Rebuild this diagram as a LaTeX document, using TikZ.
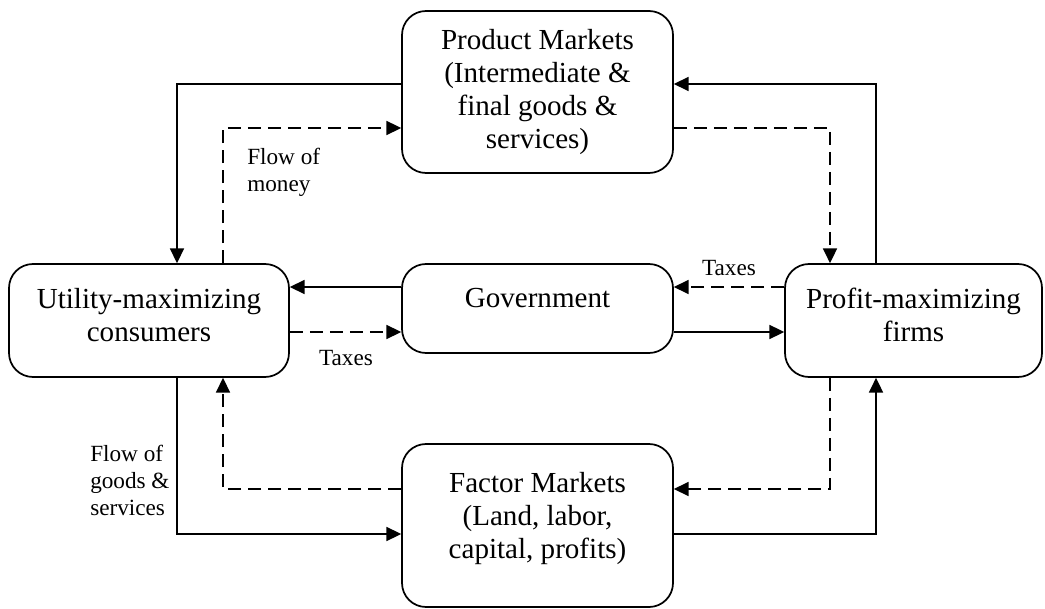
\documentclass[tikz,border=0pt]{standalone}
\usepackage{fontspec}
\setmainfont{Liberation Serif}
\usetikzlibrary{arrows.meta}

\begin{document}
\begin{tikzpicture}[x=0.75pt, y=-0.75pt,
		market/.style={draw, line width=1.3pt, rounded corners=18pt, align=center, inner sep=0pt, font=\fontsize{21.8}{24.75}\selectfont},
		goods/.style={line width=1.3pt, -{Triangle[length=11pt,width=10.5pt]}},
		money/.style={goods, dash pattern=on 10pt off 5pt},
		note/.style={align=left, inner sep=0pt, font=\fontsize{17.4}{20.25}\selectfont}]
		\useasboundingbox (0,0) rectangle (1045,609);
		
		% Boxes of the circular flow
		\node[market, minimum width=203.25pt, minimum height=121.5pt] (prod) at (537.5,92) {Product Markets\\(Intermediate \&\\final goods \&\\services)};
		\node[market, minimum width=210pt, minimum height=84.75pt, text depth=8pt] (cons) at (149,320.5) {Utility-maximizing\\consumers};
		\node[market, minimum width=203.25pt, minimum height=66.75pt, text depth=16pt] (gov) at (537.5,308.5) {Government};
		\node[market, minimum width=192.75pt, minimum height=84.75pt, text depth=8pt] (firms) at (913.5,320.5) {Profit-maximizing\\firms};
		\node[market, minimum width=203.25pt, minimum height=122.25pt, text depth=15pt] (factor) at (537.5,525.5) {Factor Markets\\(Land, labor,\\capital, profits)};
		
		% Bend points of the connectors
		\coordinate (outer) at (177,84);   % outer solid loop, top
		\coordinate (inner) at (223,128);  % inner dashed loop, top
		\coordinate (fouter) at (876,84);
		\coordinate (finner) at (830,128);
		\coordinate (gtop) at (0,287);
		\coordinate (gbot) at (0,332);
		\coordinate (bouter) at (177,534); % outer solid loop, bottom
		\coordinate (binner) at (223,489); % inner dashed loop, bottom
		\coordinate (fbouter) at (876,534);
		\coordinate (fbinner) at (830,489);
		
		% Upper half
		\draw[goods] (prod.west |- outer) -| (cons.north -| outer);
		\draw[money] (cons.north -| inner) |- (prod.west |- inner);
		\draw[goods] (firms.north -| fouter) |- (prod.east |- fouter);
		\draw[money] (prod.east |- finner) -| (firms.north -| finner);
		
		% Government in the middle
		\draw[goods] (gov.west |- gtop) -- (cons.east |- gtop);
		\draw[money] (cons.east |- gbot) -- (gov.west |- gbot);
		\draw[money] (firms.west |- gtop) -- (gov.east |- gtop);
		\draw[goods] (gov.east |- gbot) -- (firms.west |- gbot);
		
		% Lower half
		\draw[goods] (cons.south -| bouter) |- (factor.west |- bouter);
		\draw[money] (factor.west |- binner) -| (cons.south -| binner);
		\draw[money] (firms.south -| fbinner) |- (factor.east |- fbinner);
		\draw[goods] (factor.east |- fbouter) -| (firms.south -| fbouter);
		
		% Labels
		\node[note, anchor=west] (money) at (247,172) {Flow of\\money};
		\node[note, anchor=west] (flowgoods) at (90,480) {Flow of\\goods \&\\services};
		\node[note] (taxcons) at (346,358) {Taxes};
		\node[note] (taxfirms) at (729,268) {Taxes};
	\end{tikzpicture}
\end{document}
